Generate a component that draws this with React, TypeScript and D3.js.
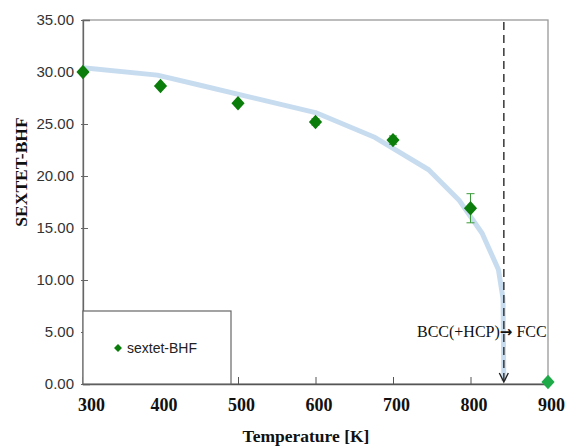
import React, { useRef, useEffect } from 'react';
import * as d3 from 'd3';

// measured points (sextet BHF vs temperature)
const temps = [300, 400, 500, 600, 700, 800, 900];
const bhf = [30.0, 28.65, 27.0, 25.2, 23.45, 16.9, 0.2];
const bhfErr = [0, 0, 0, 0.3, 0.4, 1.4, 0];

// guide curve (light blue)
const curveT = [300, 396, 450, 600, 677, 746, 785, 815, 836, 842, 843];
const curveV = [30.4, 29.7, 28.75, 26.1, 23.7, 20.6, 17.7, 14.5, 11.0, 8.2, 0.3];

const transitionT = 843;
const xTicks = [300, 400, 500, 600, 700, 800, 900];
const yTicks = [0, 5, 10, 15, 20, 25, 30, 35];

export default function App() {
  const ref = useRef<SVGSVGElement>(null);

  useEffect(() => {
    const svg = d3.select(ref.current);
    svg.selectAll('*').remove();

    const left = 83, right = 548, top = 20, bottom = 384;
    const x = d3.scaleLinear().domain([300, 900]).range([left, right]);
    const y = d3.scaleLinear().domain([0, 35]).range([bottom, top]);
    const serif = '"Liberation Serif", "Times New Roman", serif';
    const sans = '"Liberation Sans", Arial, sans-serif';

    // frame
    svg.append('rect')
      .attr('x', left).attr('y', top)
      .attr('width', right - left).attr('height', bottom - top)
      .attr('fill', 'none').attr('stroke', '#999').attr('stroke-width', 1.3);

    // y axis
    const yAxis = svg.append('g').attr('transform', `translate(${left},0)`)
      .call(d3.axisLeft(y).tickValues(yTicks).tickSize(-7).tickPadding(6).tickFormat(d3.format('.2f')));
    yAxis.select('.domain').attr('stroke', '#666').attr('stroke-width', 1.3);
    yAxis.selectAll('.tick line').attr('stroke', '#666').attr('transform', 'translate(-2,0)');
    yAxis.selectAll('.tick text').attr('font-family', sans).attr('font-size', 15).attr('fill', '#333').attr('dx', -3);

    // x axis
    const xAxis = svg.append('g').attr('transform', `translate(0,${bottom})`)
      .call(d3.axisBottom(x).tickValues(xTicks).tickSize(-7).tickPadding(14).tickFormat(d3.format('d')));
    xAxis.select('.domain').attr('stroke', '#555').attr('stroke-width', 1.5);
    xAxis.selectAll('.tick line').attr('stroke', '#555');
    xAxis.selectAll('.tick text')
      .attr('font-family', serif).attr('font-size', 18).attr('font-weight', 'bold').attr('fill', '#111')
      .attr('dx', (d: any) => (d === 300 ? 8 : 3));

    // axis titles
    svg.append('text')
      .attr('x', 306).attr('y', 442).attr('text-anchor', 'middle')
      .attr('font-family', serif).attr('font-size', 17.5).attr('font-weight', 'bold').attr('fill', '#111')
      .text('Temperature [K]');
    svg.append('text')
      .attr('transform', 'translate(27,172) rotate(-90)').attr('text-anchor', 'middle')
      .attr('font-family', serif).attr('font-size', 17.5).attr('font-weight', 'bold').attr('fill', '#111')
      .text('SEXTET-BHF');

    // guide curve
    const line = d3.line<number>().x((d, i) => x(curveT[i])).y(d => y(d));
    svg.append('path')
      .attr('d', line(curveV))
      .attr('fill', 'none').attr('stroke', '#c8dcf0').attr('stroke-width', 5)
      .attr('stroke-linejoin', 'round');

    // transition dashed arrow
    const tx = x(transitionT);
    svg.append('line')
      .attr('x1', tx).attr('x2', tx).attr('y1', top + 2).attr('y2', bottom - 2)
      .attr('stroke', '#444').attr('stroke-width', 1.6).attr('stroke-dasharray', '8,5');
    svg.append('path')
      .attr('d', `M${tx - 4.5},${bottom - 11} L${tx},${bottom - 2} L${tx + 4.5},${bottom - 11}`)
      .attr('fill', 'none').attr('stroke', '#222').attr('stroke-width', 1.4);
    const label = svg.append('text')
      .attr('x', 417).attr('y', 337)
      .attr('font-family', serif).attr('font-size', 16).attr('fill', '#111');
    label.append('tspan').text('BCC(+HCP)');
    label.append('tspan').attr('font-family', '"DejaVu Sans", sans-serif').attr('font-size', 15)
      .attr('font-weight', 'bold').text('\u2192');
    label.append('tspan').text(' FCC');

    // error bars
    const pts = temps.map((t, i) => ({ t, v: bhf[i], e: bhfErr[i] }));
    const eb = svg.append('g').attr('stroke', '#3a9a3a').attr('stroke-width', 1);
    pts.filter(p => p.e > 0).forEach(p => {
      eb.append('line').attr('x1', x(p.t)).attr('x2', x(p.t)).attr('y1', y(p.v - p.e)).attr('y2', y(p.v + p.e));
      [p.v - p.e, p.v + p.e].forEach(v => {
        eb.append('line').attr('x1', x(p.t) - 4).attr('x2', x(p.t) + 4).attr('y1', y(v)).attr('y2', y(v));
      });
    });

    // diamonds
    const diamond = d3.symbol().type(d3.symbolDiamond2).size(110);
    svg.append('g').selectAll('path').data(pts).enter().append('path')
      .attr('d', diamond)
      .attr('transform', d => `translate(${x(d.t)},${y(d.v)}) scale(1,1.1)`)
      .attr('fill', d => (d.t === 900 ? '#1faa4a' : '#0a7d0a'));

    // legend
    const lg = svg.append('g');
    lg.append('rect')
      .attr('x', left).attr('y', 311).attr('width', 231 - left).attr('height', bottom - 311)
      .attr('fill', 'white').attr('stroke', '#666').attr('stroke-width', 1.2);
    lg.append('path').attr('d', d3.symbol().type(d3.symbolDiamond2).size(40))
      .attr('transform', 'translate(118,348)').attr('fill', '#0a7d0a');
    lg.append('text').attr('x', 127).attr('y', 353)
      .attr('font-family', sans).attr('font-size', 14).attr('fill', '#222')
      .text('sextet-BHF');
  }, []);

  return (
    <div style={{ position: 'absolute', left: 0, top: 0, background: 'white' }}>
      <svg ref={ref} width={572} height={447} />
    </div>
  );
}
